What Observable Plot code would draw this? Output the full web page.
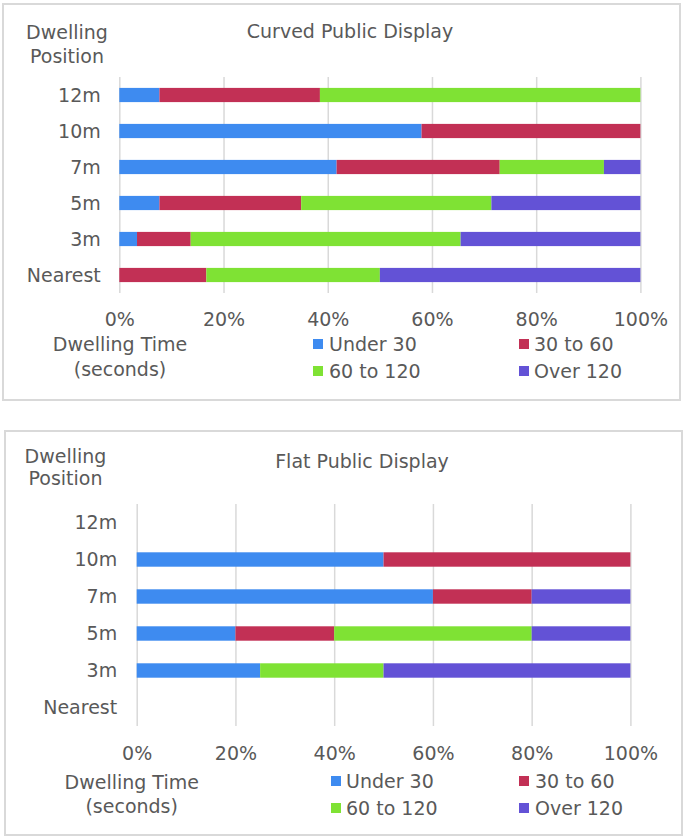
<!DOCTYPE html>
<html>
<head>
<meta charset="utf-8">
<script src="https://cdn.jsdelivr.net/npm/d3@7"></script>
<script src="https://cdn.jsdelivr.net/npm/@observablehq/plot@0.6"></script>
<style>
  html, body { margin: 0; padding: 0; background: #ffffff; }
  #root { position: relative; width: 685px; height: 837px; font-family: "DejaVu Sans", Verdana, sans-serif; color: #595959; overflow: hidden; }
  .frame { position: absolute; border: 2px solid #d9d9d9; box-sizing: border-box; }
  .lbl { position: absolute; font-size: 19px; line-height: 19px; white-space: nowrap; transform: translate(-50%, -50%); }
  .leg { position: absolute; font-size: 19px; line-height: 19px; white-space: nowrap; transform: translateY(-50%); }
  .sw { position: absolute; width: 10px; height: 10px; transform: translateY(-50%); }
  .plotwrap { position: absolute; left: 0; }
</style>
</head>
<body>
<div id="root"></div>
<script>
// ---- data ----
const positions = ["12m", "10m", "7m", "5m", "3m", "Nearest"];
const categories = ["Under 30", "30 to 60", "60 to 120", "Over 120"];
const colors = ["#3e8bf0", "#c23055", "#7fe234", "#6352d6"];
const xTicks = [0, 20, 40, 60, 80, 100];

// Curved public display (% of viewers, per position)
const curvedUnder30  = [7.7, 58.0, 41.7, 7.7, 3.4, 0];
const curved30to60   = [30.8, 42.0, 31.3, 27.2, 10.3, 16.7];
const curved60to120  = [61.5, 0, 20.0, 36.5, 51.8, 33.3];
const curvedOver120  = [0, 0, 7.0, 28.6, 34.5, 50.0];

// Flat public display
const flatUnder30  = [0, 50, 60, 20, 25, 0];
const flat30to60   = [0, 50, 20, 20, 0, 0];
const flat60to120  = [0, 0, 0, 40, 25, 0];
const flatOver120  = [0, 0, 20, 20, 50, 0];

function rows(series) {
  const out = [];
  positions.forEach((p, i) => {
    categories.forEach((c, j) => {
      const v = series[j][i];
      if (v > 0) out.push({position: p, category: c, value: v});
    });
  });
  return out;
}

const root = document.getElementById("root");

function addEl(cls, text, x, y, extra) {
  const d = document.createElement("div");
  d.className = cls;
  if (text != null) d.textContent = text;
  d.style.left = x + "px";
  d.style.top = y + "px";
  if (extra) Object.assign(d.style, extra);
  root.appendChild(d);
  return d;
}

function panel(cfg) {
  // frame
  const f = addEl("frame", null, cfg.frame[0], cfg.frame[1]);
  f.style.width = (cfg.frame[2] - cfg.frame[0]) + "px";
  f.style.height = (cfg.frame[3] - cfg.frame[1]) + "px";

  const data = rows(cfg.series);
  const chart = Plot.plot({
    width: 685,
    height: cfg.height,
    marginLeft: cfg.ml,
    marginRight: cfg.mr,
    marginTop: cfg.mt,
    marginBottom: cfg.mb,
    style: {fontFamily: "DejaVu Sans", fontSize: "19px", color: "#595959", background: "transparent", overflow: "visible"},
    x: {domain: [0, 100]},
    y: {domain: positions, padding: 0},
    color: {domain: categories, range: colors},
    marks: [
      Plot.gridX(xTicks, {stroke: "#d9d9d9", strokeOpacity: 1, strokeWidth: 1.5}),
      Plot.barX(data, Plot.stackX({
        y: "position", x: "value", fill: "category", order: categories,
        insetTop: cfg.inset, insetBottom: cfg.inset
      })),
      Plot.axisX({ticks: xTicks, tickFormat: d => d + "%", tickSize: 0, tickPadding: cfg.xpad, label: null, fontSize: 19}),
      Plot.axisY({tickSize: 0, tickPadding: cfg.ypad, label: null, fontSize: 19})
    ]
  });
  const w = document.createElement("div");
  w.className = "plotwrap";
  w.style.top = cfg.top + "px";
  w.appendChild(chart);
  root.appendChild(w);

  // texts
  addEl("lbl", cfg.title, cfg.titleX, cfg.titleY);
  addEl("lbl", "Dwelling", cfg.posX, cfg.posY[0]);
  addEl("lbl", "Position", cfg.posX, cfg.posY[1]);
  addEl("lbl", "Dwelling Time", cfg.timeX, cfg.timeY[0]);
  addEl("lbl", "(seconds)", cfg.timeX, cfg.timeY[1]);

  // legend
  categories.forEach((c, j) => {
    const col = j % 2, row = Math.floor(j / 2);
    const y = cfg.legY[row];
    addEl("sw", null, cfg.legSw[col], y, {background: colors[j]});
    addEl("leg", c, cfg.legTx[col], y);
  });
}

panel({
  series: [curvedUnder30, curved30to60, curved60to120, curvedOver120],
  title: "Curved Public Display",
  frame: [2, 3, 681, 401],
  top: 0, height: 340, ml: 119.3, mr: 44.6, mt: 77, mb: 47,
  inset: 10.9, xpad: 19, ypad: 19,
  titleX: 350, titleY: 31,
  posX: 67, posY: [32, 56],
  timeX: 120, timeY: [344, 369],
  legSw: [313, 519], legTx: [329, 534], legY: [344, 370.5]
});

panel({
  series: [flatUnder30, flat30to60, flat60to120, flatOver120],
  title: "Flat Public Display",
  frame: [4, 430, 683, 836],
  top: 430, height: 340, ml: 136.7, mr: 54.6, mt: 74, mb: 44,
  inset: 11.3, xpad: 20, ypad: 20,
  titleX: 362, titleY: 461,
  posX: 65.5, posY: [456, 478],
  timeX: 131.7, timeY: [782, 806],
  legSw: [331, 519], legTx: [346, 535], legY: [781, 808]
});
</script>
</body>
</html>
